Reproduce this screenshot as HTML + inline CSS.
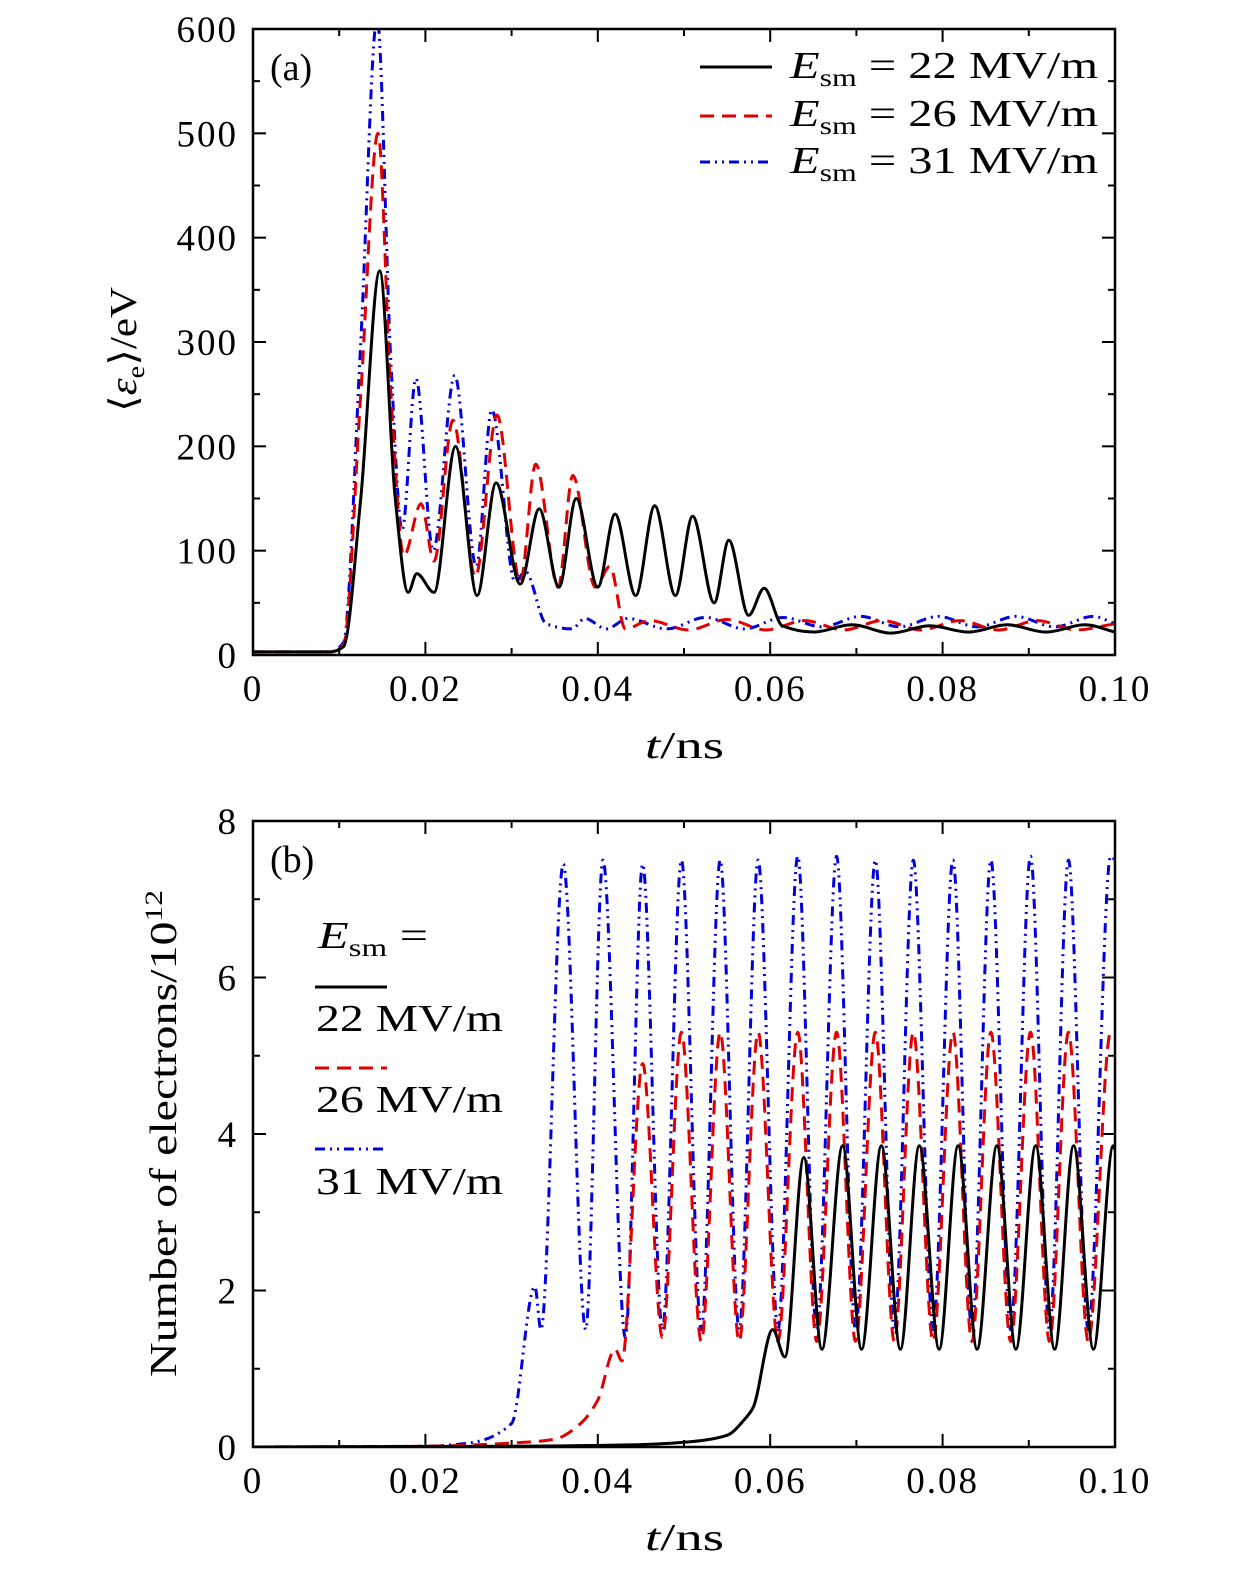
<!DOCTYPE html>
<html><head><meta charset="utf-8"><style>
body{margin:0;background:#fff;overflow:hidden}
svg{display:block;font-family:"Liberation Serif",serif}
</style></head><body>
<svg id="c" width="1260" height="1575" viewBox="0 0 1260 1575"></svg>
<script>
// panel (a) data: mean electron energy (eV)
const aT22=[0,0.009,0.0105,0.0125,0.0147,0.0165,0.018,0.019,0.021,0.0235,0.026,0.0282,0.031,0.0332,0.0355,0.0375,0.040,0.042,0.0444,0.0466,0.049,0.051,0.0535,0.0552,0.0575,0.0593,0.0614,0.065,0.0695,0.074,0.0785,0.083,0.0875,0.092,0.0965,0.1];
const aV22=[3,3,8,150,368,150,60,78,60,200,57,165,68,140,65,150,65,135,57,143,57,133,50,110,38,64,28,22,29,21,28,22,29,22,29,22];
const aT26=[0,0.009,0.0105,0.0125,0.0145,0.016,0.0175,0.0195,0.021,0.0232,0.0258,0.0283,0.031,0.0328,0.0354,0.0371,0.0397,0.0414,0.0432,0.046,0.0505,0.055,0.0595,0.064,0.0685,0.073,0.0775,0.082,0.0865,0.091,0.0955,0.1];
const aV26=[3,3,10,250,500,250,95,145,90,225,75,230,70,183,65,172,65,85,25,33,24,34,24,33,24,33,24,33,24,33,24,30];
const aT31=[0,0.009,0.0105,0.0125,0.0144,0.016,0.0173,0.0189,0.0209,0.0234,0.0259,0.0277,0.0304,0.0316,0.034,0.037,0.0385,0.041,0.0435,0.048,0.0525,0.057,0.0615,0.066,0.0705,0.075,0.0795,0.084,0.0885,0.093,0.0975,0.1];
const aV31=[3,3,12,300,610,280,120,265,100,268,85,235,70,80,30,25,35,25,35,25,36,25,36,27,37,27,37,27,37,27,37,30];
// panel (b) data: number of electrons / 1e12
const bT22=[0,0.03,0.045,0.05,0.055,0.057,0.058,0.0603,0.0617,0.0639,0.066,0.0684,0.0706,0.0729,0.0751,0.0773,0.0796,0.0818,0.084,0.0863,0.0885,0.0908,0.093,0.0952,0.0975,0.0998,0.1];
const bV22=[0,0.01,0.03,0.06,0.15,0.35,0.5,1.5,1.15,3.7,1.25,3.85,1.25,3.85,1.25,3.85,1.25,3.85,1.25,3.85,1.25,3.85,1.25,3.85,1.25,3.85,3.8];
const bT26=[0,0.02,0.03,0.035,0.038,0.040,0.042,0.0428,0.0452,0.0475,0.0497,0.052,0.0542,0.0564,0.0586,0.0609,0.0632,0.0654,0.0677,0.0699,0.0722,0.0744,0.0766,0.0789,0.0812,0.0834,0.0856,0.0879,0.0902,0.0924,0.0946,0.0969,0.0995,0.1];
const bV26=[0,0.01,0.05,0.1,0.3,0.6,1.25,1.1,4.9,1.4,5.3,1.35,5.3,1.35,5.3,1.35,5.3,1.35,5.3,1.35,5.3,1.35,5.3,1.35,5.3,1.35,5.3,1.35,5.3,1.35,5.3,1.35,5.3,5.3];
const bT31=[0,0.02,0.025,0.03,0.0327,0.0334,0.036,0.0386,0.0406,0.0432,0.0452,0.0475,0.0497,0.052,0.0542,0.0564,0.0586,0.0609,0.0632,0.0654,0.0677,0.0699,0.0722,0.0744,0.0766,0.0789,0.0812,0.0834,0.0856,0.0879,0.0902,0.0924,0.0946,0.0969,0.0995,0.1];
const bV31=[0,0.01,0.05,0.3,2.05,1.5,7.45,1.5,7.5,1.4,7.45,1.5,7.5,1.5,7.5,1.5,7.5,1.5,7.55,1.5,7.55,1.5,7.5,1.5,7.5,1.5,7.5,1.5,7.5,1.5,7.55,1.5,7.5,1.5,7.55,7.5];
const xTicks=["0","0.02","0.04","0.06","0.08","0.10"];
const aYTicks=["0","100","200","300","400","500","600"];
const bYTicks=["0","2","4","6","8"];

const svg=document.getElementById('c');
const NS='http://www.w3.org/2000/svg';
function mk(tag,attrs,parent){const e=document.createElementNS(NS,tag);for(const k in attrs)e.setAttribute(k,attrs[k]);(parent||svg).appendChild(e);return e;}
const X0=253,X1=1115;
const xs=t=>X0+(X1-X0)*t/0.1;
function panel(top,bot,ymax,yTicks,minorStep,name){
  const ys=v=>bot-(bot-top)*v/ymax;
  const g=mk('g',{});
  
  
  for(let i=0;i<=10;i++){const x=xs(i*0.01);const L=i%2?7:13;
    mk('line',{x1:x,x2:x,y1:bot,y2:bot-L,stroke:'#000','stroke-width':2},g);
    mk('line',{x1:x,x2:x,y1:top,y2:top+L,stroke:'#000','stroke-width':2},g);}
  const n=Math.round(ymax/minorStep);
  for(let i=0;i<=n;i++){const y=ys(i*minorStep);const L=i%2?7:13;
    mk('line',{x1:X0,x2:X0+L,y1:y,y2:y,stroke:'#000','stroke-width':2},g);
    mk('line',{x1:X1,x2:X1-L,y1:y,y2:y,stroke:'#000','stroke-width':2},g);}
  xTicks.forEach((s,i)=>{const t=mk('text',{x:xs(i*0.02),y:bot+46,'text-anchor':'middle','font-size':37,'letter-spacing':2},g);t.textContent=s;
    });
  yTicks.forEach((s,i)=>{const t=mk('text',{x:238,y:ys(i*ymax/(yTicks.length-1))+13,'text-anchor':'end','font-size':37,'letter-spacing':2},g);t.textContent=s;
    });
  return ys;
}
function curve(T,V,ys,color,dash,name){
  const n=T.length,X=T.map(xs),Y=V.map(ys);
  const d0=[],m=[];
  for(let i=0;i<n-1;i++)d0.push((Y[i+1]-Y[i])/(X[i+1]-X[i]));
  for(let i=0;i<n;i++){
    if(i==0)m.push(d0[0]);else if(i==n-1)m.push(d0[n-2]);
    else if(d0[i-1]*d0[i]<=0)m.push(0);
    else{const h0=X[i]-X[i-1],h1=X[i+1]-X[i];const w1=2*h1+h0,w2=h1+2*h0;m.push((w1+w2)/(w1/d0[i-1]+w2/d0[i]));}
  }
  let d='M'+X[0]+','+Y[0];
  for(let i=1;i<n;i++){const h=(X[i]-X[i-1])/3;
    d+=` C${X[i-1]+h},${Y[i-1]+m[i-1]*h} ${X[i]-h},${Y[i]-m[i]*h} ${X[i]},${Y[i]}`;}
  const p=mk('path',{d:d,fill:'none',stroke:color,'stroke-width':3,'stroke-dasharray':dash,'clip-path':'url(#'+name.split('-')[0]+'clip)'});
  
  
}
const defs=mk('defs',{});
const ca=mk('clipPath',{id:'aclip'},defs);mk('rect',{x:X0,y:29,width:X1-X0,height:626},ca);
const cb=mk('clipPath',{id:'bclip'},defs);mk('rect',{x:X0,y:821,width:X1-X0,height:626},cb);

const ysA=panel(29,655,600,aYTicks,50,'panel-a');
curve(aT31,aV31,ysA,'#0000dd','10 5 2 5 2 5','a-series-31');
curve(aT26,aV26,ysA,'#e00000','14 8','a-series-26');
curve(aT22,aV22,ysA,'#000','none','a-series-22');
const ysB=panel(821,1447,8,bYTicks,1,'panel-b');
curve(bT31,bV31,ysB,'#0000dd','10 5 2 5 2 5','b-series-31');
curve(bT26,bV26,ysB,'#e00000','14 8','b-series-26');
curve(bT22,bV22,ysB,'#000','none','b-series-22');
</script>
<svg width="1260" height="1575" style="position:absolute;left:0;top:0">
<g font-family="Liberation Serif,serif" font-size="38">
<rect x="253" y="29" width="862" height="626" fill="none" stroke="#000" stroke-width="2.5"/>
<rect x="253" y="821" width="862" height="626" fill="none" stroke="#000" stroke-width="2.5"/>
<text x="270" y="80">(a)</text>
<text x="270" y="872">(b)</text>
<text x="645" y="758" textLength="79" lengthAdjust="spacingAndGlyphs"><tspan font-style="italic">t</tspan>/ns</text>
<text x="645" y="1550" textLength="79" lengthAdjust="spacingAndGlyphs"><tspan font-style="italic">t</tspan>/ns</text>
<text transform="translate(136,412) rotate(-90)" textLength="125" lengthAdjust="spacingAndGlyphs">⟨<tspan font-style="italic">ε</tspan><tspan font-size="25" dy="8">e</tspan><tspan dy="-8">⟩/eV</tspan></text>
<text transform="translate(176,1377) rotate(-90)" textLength="487" lengthAdjust="spacingAndGlyphs">Number of electrons/10<tspan font-size="25" dy="-14">12</tspan></text>
<g>
<line x1="700" x2="772" y1="67" y2="67" stroke="#000" stroke-width="3"/>
<line x1="700" x2="772" y1="116" y2="116" stroke="#e00000" stroke-width="3" stroke-dasharray="14 8"/>
<line x1="700" x2="772" y1="162" y2="162" stroke="#0000dd" stroke-width="3" stroke-dasharray="10 5 2 5 2 5"/>
<text x="790" y="78" textLength="308" lengthAdjust="spacingAndGlyphs"><tspan font-style="italic">E</tspan><tspan font-size="25" dy="8">sm</tspan><tspan dy="-8"> = 22 MV/m</tspan></text>
<text x="790" y="126" textLength="308" lengthAdjust="spacingAndGlyphs"><tspan font-style="italic">E</tspan><tspan font-size="25" dy="8">sm</tspan><tspan dy="-8"> = 26 MV/m</tspan></text>
<text x="790" y="173" textLength="308" lengthAdjust="spacingAndGlyphs"><tspan font-style="italic">E</tspan><tspan font-size="25" dy="8">sm</tspan><tspan dy="-8"> = 31 MV/m</tspan></text>
</g>
<g>
<text x="318" y="948" textLength="110" lengthAdjust="spacingAndGlyphs"><tspan font-style="italic">E</tspan><tspan font-size="25" dy="8">sm</tspan><tspan dy="-8"> =</tspan></text>
<line x1="315" x2="387" y1="987" y2="987" stroke="#000" stroke-width="3"/>
<text x="316" y="1031" textLength="187" lengthAdjust="spacingAndGlyphs">22 MV/m</text>
<line x1="315" x2="387" y1="1068" y2="1068" stroke="#e00000" stroke-width="3" stroke-dasharray="14 8"/>
<text x="316" y="1112" textLength="187" lengthAdjust="spacingAndGlyphs">26 MV/m</text>
<line x1="315" x2="387" y1="1149" y2="1149" stroke="#0000dd" stroke-width="3" stroke-dasharray="10 5 2 5 2 5"/>
<text x="316" y="1194" textLength="187" lengthAdjust="spacingAndGlyphs">31 MV/m</text>
</g>
</g>
</svg>
</body></html>
